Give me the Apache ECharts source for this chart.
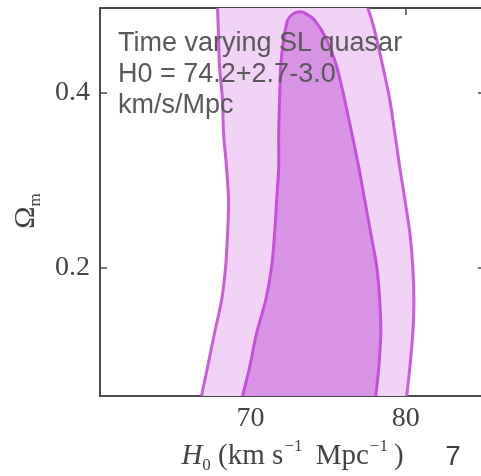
<!DOCTYPE html>
<html>
<head>
<meta charset="utf-8">
<script src="https://cdn.jsdelivr.net/npm/echarts@6/dist/echarts.min.js"></script>
<style>
  html, body { margin: 0; padding: 0; background: #fff; }
  #chart { width: 481px; height: 476px; }
</style>
</head>
<body>
<div id="chart"></div>
<script>
var omLevels = [0.054, 0.087, 0.126, 0.163, 0.201, 0.24, 0.278, 0.315, 0.354, 0.392, 0.43, 0.461, 0.483, 0.497];
// 2-sigma contour, H0 of left and right edges at each level
var outerLeftH0  = [66.84, 67.23, 67.68, 68.13, 68.39, 68.52, 68.58, 68.45, 68.26, 68.19, 68.0, 67.94, 67.9, 67.87];
var outerRightH0 = [80.06, 80.26, 80.45, 80.52, 80.45, 80.26, 79.94, 79.61, 79.29, 78.97, 78.52, 78.13, 77.81, 77.55];
// 1-sigma contour, closes just below the top
var innerOm      = [0.054, 0.087, 0.126, 0.163, 0.201, 0.24, 0.278, 0.315, 0.354, 0.392, 0.43, 0.461, 0.483, 0.490];
var innerLeftH0  = [69.48, 69.94, 70.39, 70.97, 71.35, 71.55, 71.68, 71.81, 71.81, 71.87, 71.94, 72.13, 72.39, 72.71];
var innerRightH0 = [78.06, 78.26, 78.39, 78.32, 78.13, 77.74, 77.35, 76.97, 76.52, 76.06, 75.55, 74.9, 74.13, 73.61];
var innerPeak = [73.16, 0.4926];

var xTicks = [70, 80];
var yTicks = [0.2, 0.4];

var axisColor = '#4a4a4a';
var labelColor = '#444';
var serif = '"Liberation Serif", "DejaVu Serif", serif';

function edge(h0s, oms) {
  return h0s.map(function (h, i) { return [h, oms[i]]; });
}

var outerLeft = edge(outerLeftH0, omLevels);
var outerRight = edge(outerRightH0, omLevels).reverse();
var innerLeft = edge(innerLeftH0, innerOm);
var innerRight = edge(innerRightH0, innerOm).reverse();

function contourItem(api, fill, stroke, polys, lines) {
  var kids = [];
  polys.forEach(function (p) {
    kids.push({
      type: 'polygon',
      shape: { points: p.map(function (d) { return api.coord(d); }) },
      style: { fill: fill, stroke: null }
    });
  });
  lines.forEach(function (l) {
    kids.push({
      type: 'polyline',
      shape: { points: l.map(function (d) { return api.coord(d); }), smooth: 0.3 },
      style: { fill: null, stroke: stroke, lineWidth: 3 }
    });
  });
  return { type: 'group', children: kids };
}

function baseX(pos) {
  return {
    type: 'value', min: 60.3, max: 85.1, position: pos,
    axisLine: { show: true, onZero: false, lineStyle: { color: axisColor, width: 2 } },
    axisTick: { show: true, inside: true, length: 7, customValues: xTicks, lineStyle: { color: axisColor, width: 1.5 } },
    axisLabel: { show: false },
    splitLine: { show: false }
  };
}
function baseY(pos) {
  return {
    type: 'value', min: 0.054, max: 0.497, position: pos,
    axisLine: { show: true, onZero: false, lineStyle: { color: axisColor, width: 2 } },
    axisTick: { show: true, inside: true, length: 7, customValues: yTicks, lineStyle: { color: axisColor, width: 1.5 } },
    axisLabel: { show: false },
    splitLine: { show: false }
  };
}

var xBottom = baseX('bottom');
xBottom.axisLabel = { show: true, customValues: xTicks, margin: 9, fontFamily: serif, fontSize: 28, color: labelColor };
xBottom.name = '{i|H}{sb|0} (km s{sp|\u22121} Mpc{sp|\u22121})';
xBottom.nameLocation = 'middle';
xBottom.nameGap = 42;
xBottom.nameTextStyle = {
  fontFamily: serif, fontSize: 29, color: labelColor, lineHeight: 36,
  rich: {
    i: { fontFamily: serif, fontSize: 29, fontStyle: 'italic', color: labelColor, lineHeight: 36 },
    sb: { fontFamily: serif, fontSize: 17, color: labelColor, verticalAlign: 'bottom', lineHeight: 36 },
    sp: { fontFamily: serif, fontSize: 17, color: labelColor, verticalAlign: 'top', lineHeight: 36, padding: [0, 6, 0, 1] }
  }
};

var yLeft = baseY('left');
yLeft.axisLabel = { show: true, customValues: yTicks, margin: 10, fontFamily: serif, fontSize: 28, color: labelColor };
yLeft.name = '\u03A9{sb|m}';
yLeft.nameLocation = 'middle';
yLeft.nameGap = 54;
yLeft.nameTextStyle = {
  fontFamily: serif, fontSize: 30, color: labelColor, lineHeight: 36, padding: [0, 18, 0, 0],
  rich: { sb: { fontFamily: serif, fontSize: 17, color: labelColor, verticalAlign: 'bottom', lineHeight: 36 } }
};

var chart = echarts.init(document.getElementById('chart'), null, { renderer: 'canvas' });
chart.setOption({
  animation: false,
  backgroundColor: '#fff',
  grid: { left: 100, right: -4, top: 8, bottom: 80, containLabel: false, outerBoundsMode: 'none' },
  xAxis: [xBottom, baseX('top')],
  yAxis: [yLeft, baseY('right')],
  series: [
    {
      type: 'custom', name: '2 sigma', clip: true, z: 2,
      data: [0],
      renderItem: function (params, api) {
        return contourItem(api, '#f0d3f5', '#c95ddc', [outerLeft.concat(outerRight)], [outerLeft, outerRight.slice().reverse()]);
      }
    },
    {
      type: 'custom', name: '1 sigma', clip: true, z: 3,
      data: [0],
      renderItem: function (params, api) {
        var ring = innerLeft.concat([innerPeak], innerRight);
        return contourItem(api, '#d993e5', '#c550da', [ring], [ring]);
      }
    }
  ],
  graphic: [
    {
      type: 'text', z: 100,
      style: {
        x: 118, y: 28, verticalAlign: 'top',
        text: 'Time varying SL quasar\nH0 = 74.2+2.7-3.0\nkm/s/Mpc',
        font: '27px "Liberation Sans", Arial, sans-serif', fill: '#595959', lineHeight: 31
      }
    },
    {
      type: 'text', z: 100,
      style: {
        x: 453, y: 457, align: 'center', verticalAlign: 'middle',
        text: '7', font: '28px "Liberation Sans", Arial, sans-serif', fill: '#404040'
      }
    }
  ]
});
</script>
</body>
</html>
